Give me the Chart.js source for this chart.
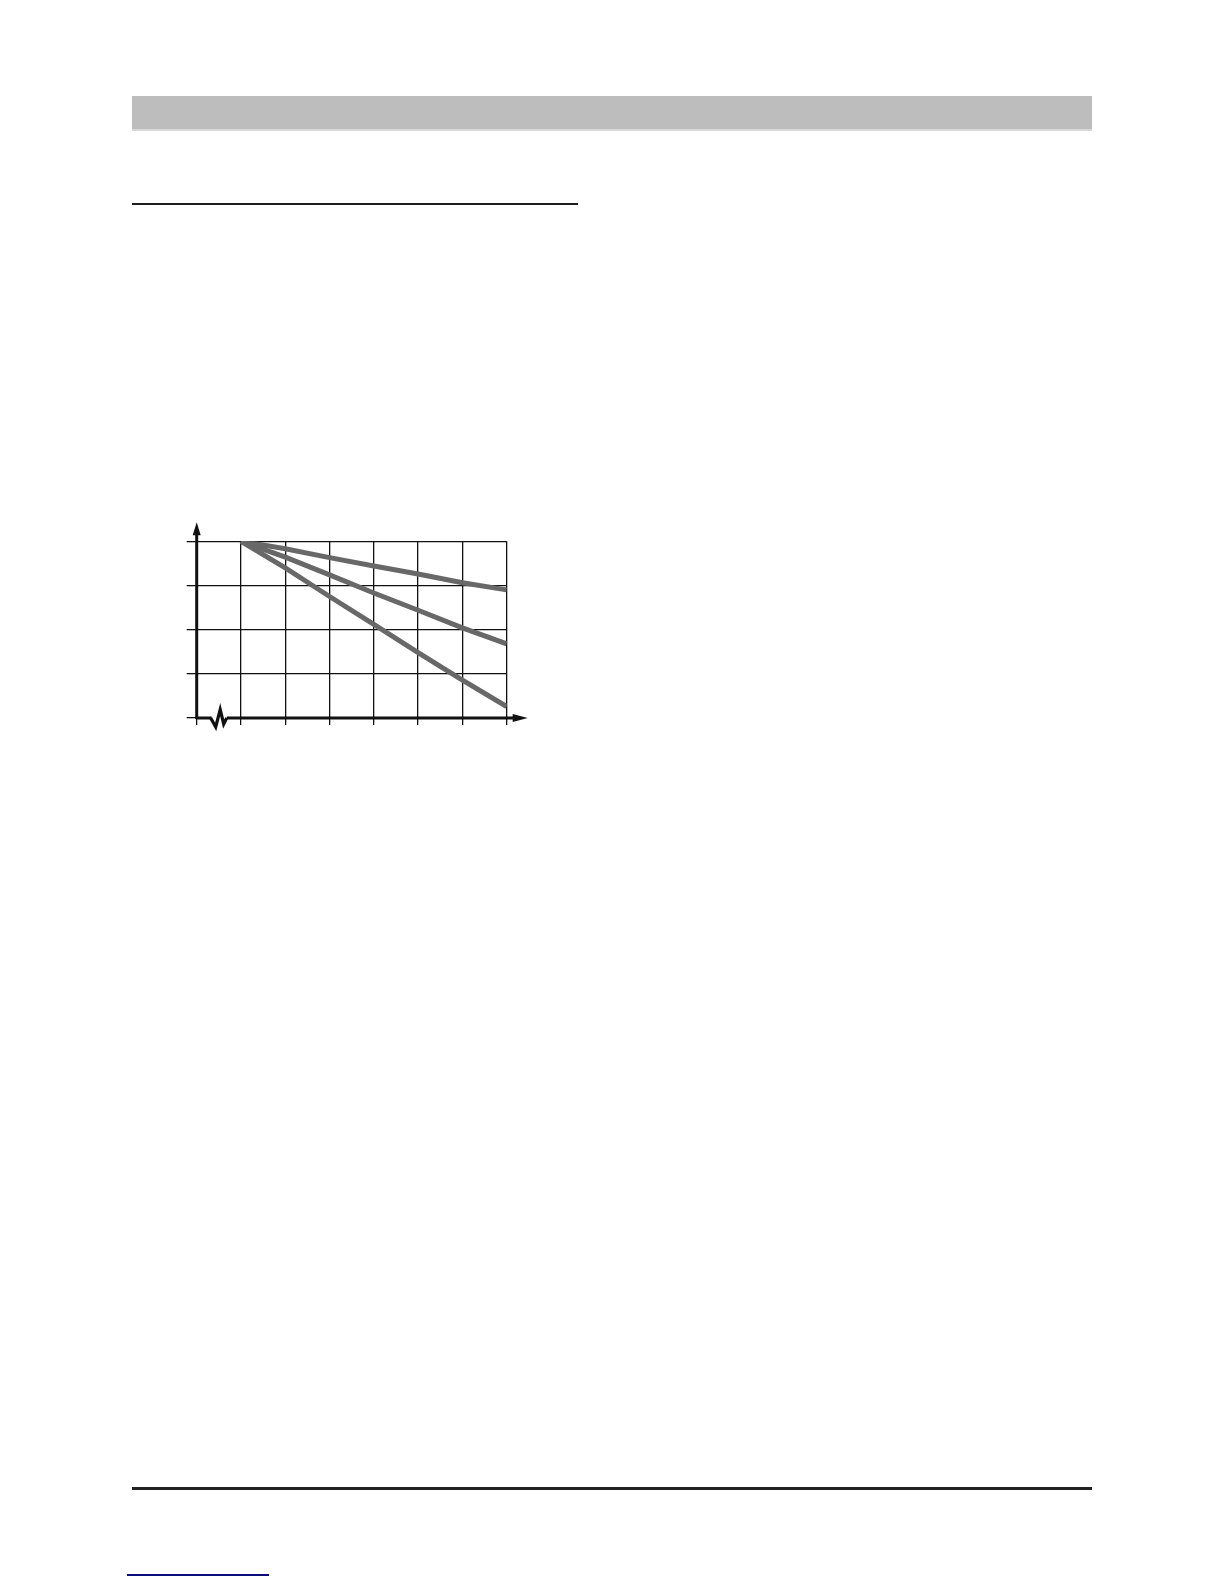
<!DOCTYPE html>
<html>
<head>
<meta charset="utf-8">
<script src="https://cdn.jsdelivr.net/npm/chart.js@4/dist/chart.umd.min.js"></script>
<style>
    html, body { margin: 0; padding: 0; background: #fff; }
    body { width: 1224px; height: 1584px; position: relative; overflow: hidden; }
    .block { position: absolute; }
    #headerBar { left: 132px; top: 96px; width: 960px; height: 33px; background: #bdbdbd; }
    #headerEdge { left: 132px; top: 129px; width: 960px; height: 2px; background: #dadada; }
    #sectionRule { left: 132px; top: 203px; width: 446px; height: 1.5px; background: #1c1c1c; }
    #footerRule { left: 132px; top: 1487px; width: 960px; height: 2.5px; background: #222; }
    #linkRule { left: 127px; top: 1574px; width: 142px; height: 1.5px; background: #0b0b7d; }
    #chartBox { position: absolute; left: 170px; top: 505px; width: 370px; height: 230px; }
</style>
</head>
<body>
<div class="block" id="headerBar"></div>
<div class="block" id="headerEdge"></div>
<div class="block" id="sectionRule"></div>
<div class="block" id="footerRule"></div>
<div class="block" id="linkRule"></div>
<div id="chartBox"><canvas id="lossChart" width="370" height="230"></canvas></div>

<script>
// x positions of the read points (grid columns)
const xValues = [1, 2, 3, 4, 5, 6, 7];
// three falling curves, all starting from the top left grid corner
const curveUpper = [4.00, 3.83, 3.63, 3.44, 3.26, 3.06, 2.90];
const curveMiddle = [4.00, 3.64, 3.24, 2.83, 2.44, 2.04, 1.68];
const curveLower = [4.00, 3.40, 2.75, 2.12, 1.48, 0.86, 0.26];
// grid ticks (no labels shown in the picture)
const xTicks = [0, 1, 2, 3, 4, 5, 6, 7];
const yTicks = [0, 1, 2, 3, 4];

const lineGrey = '#686868';

const toPoints = (ys) => xValues.map((x, i) => ({ x: x, y: ys[i] }));

// axis arrows and the break mark on the x axis
const axisArrows = {
    id: 'axisArrows',
    afterDraw(chart) {
        const { ctx, chartArea: area } = chart;
        const x0 = chart.scales.x.getPixelForValue(0);
        const y0 = chart.scales.y.getPixelForValue(0);
        ctx.save();
        ctx.strokeStyle = '#111';
        ctx.fillStyle = '#111';
        ctx.lineWidth = 3;
        ctx.lineCap = 'butt';

        // y axis shaft + arrow head
        const yTip = area.top - 19;
        ctx.beginPath();
        ctx.moveTo(x0, y0 + 1);
        ctx.lineTo(x0, yTip + 8);
        ctx.stroke();
        ctx.beginPath();
        ctx.moveTo(x0, yTip);
        ctx.lineTo(x0 - 4, yTip + 13);
        ctx.lineTo(x0 + 4, yTip + 13);
        ctx.closePath();
        ctx.fill();

        // x axis shaft + arrow head
        const xTip = area.right + 21;
        ctx.beginPath();
        ctx.moveTo(x0 - 1, y0);
        ctx.lineTo(xTip - 8, y0);
        ctx.stroke();
        ctx.beginPath();
        ctx.moveTo(xTip, y0);
        ctx.lineTo(xTip - 15, y0 - 4);
        ctx.lineTo(xTip - 15, y0 + 4);
        ctx.closePath();
        ctx.fill();

        // break mark
        ctx.fillStyle = '#fff';
        ctx.fillRect(x0 + 15, y0 - 2, 15, 4);
        ctx.lineWidth = 3.2;
        ctx.lineJoin = 'miter';
        ctx.beginPath();
        ctx.moveTo(x0 + 14, y0);
        ctx.lineTo(x0 + 19, y0 + 9);
        ctx.lineTo(x0 + 23.5, y0 - 8.5);
        ctx.lineTo(x0 + 27, y0 + 6);
        ctx.lineTo(x0 + 30, y0);
        ctx.stroke();
        ctx.restore();
    }
};

const datasetFor = (label, ys) => ({
    label: label,
    data: toPoints(ys),
    borderColor: lineGrey,
    borderWidth: 5,
    pointRadius: 0,
    tension: 0,
    fill: false
});

const ctxChart = document.getElementById('lossChart').getContext('2d');
new Chart(ctxChart, {
    type: 'line',
    data: {
        datasets: [
            datasetFor('upper', curveUpper),
            datasetFor('middle', curveMiddle),
            datasetFor('lower', curveLower)
        ]
    },
    options: {
        responsive: false,
        animation: false,
        devicePixelRatio: 1,
        layout: { padding: { left: 16.7, right: 33.3, top: 36.3, bottom: 10 } },
        plugins: { legend: { display: false }, tooltip: { enabled: false } },
        scales: {
            x: {
                type: 'linear',
                min: xTicks[0],
                max: xTicks[xTicks.length - 1],
                afterBuildTicks: (axis) => { axis.ticks = xTicks.map(v => ({ value: v })); },
                ticks: { display: false },
                grid: { color: '#111', lineWidth: 1.3, tickLength: 7, tickColor: '#111' },
                border: { display: false }
            },
            y: {
                type: 'linear',
                min: yTicks[0],
                max: yTicks[yTicks.length - 1],
                afterBuildTicks: (axis) => { axis.ticks = yTicks.map(v => ({ value: v })); },
                ticks: { display: false },
                grid: { color: '#111', lineWidth: 1.3, tickLength: 10, tickColor: '#111' },
                border: { display: false }
            }
        }
    },
    plugins: [axisArrows]
});
</script>
</body>
</html>
